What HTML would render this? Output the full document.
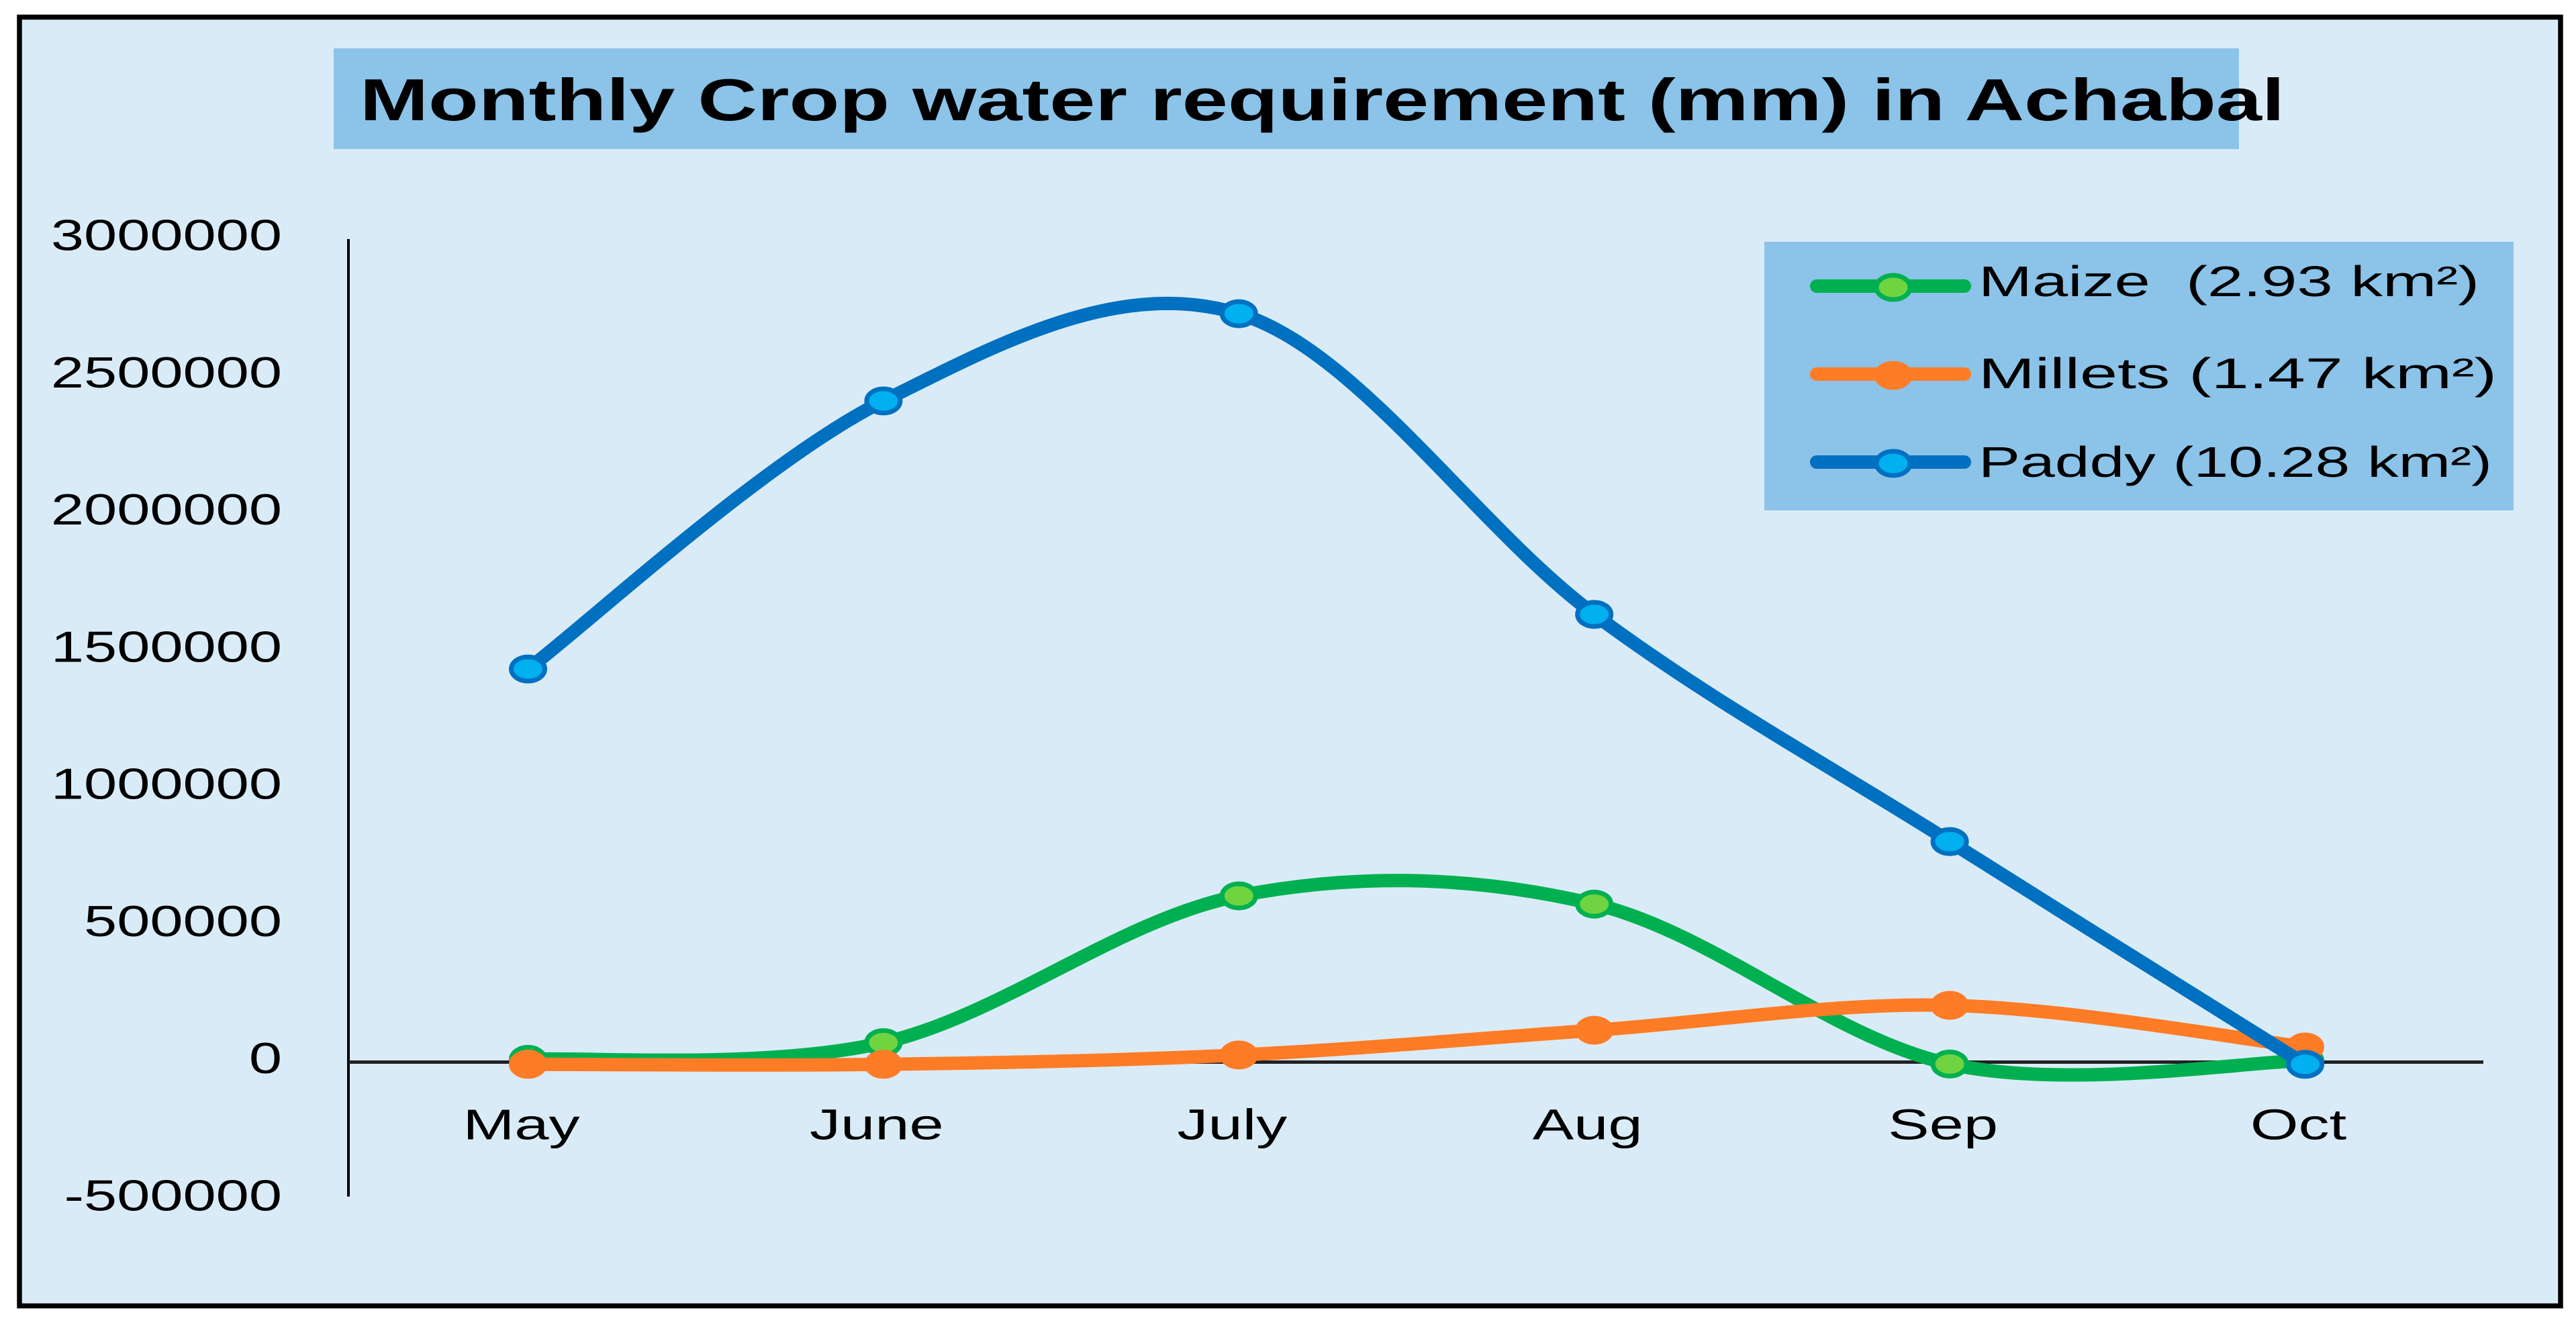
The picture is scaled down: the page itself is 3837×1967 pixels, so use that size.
<!DOCTYPE html>
<html lang="en">
<head>
<meta charset="utf-8">
<title>Monthly Crop water requirement (mm) in Achabal</title>
<style>
html,body{margin:0;padding:0;background:#fff;}
svg{display:block;}
text{font-family:"Liberation Sans",sans-serif;fill:#000;}
</style>
</head>
<body>
<svg id="chart" xmlns="http://www.w3.org/2000/svg" width="3837" height="1967" viewBox="0 0 3837 1967">
  <rect x="29" y="25.5" width="3785" height="1919" fill="#DAEBF8" stroke="#000" stroke-width="7.5"/>
  <rect x="497" y="72" width="2838" height="150" fill="#8CC3E8"/>
  <text x="536" y="179" font-size="88" font-weight="bold" textLength="2867" lengthAdjust="spacingAndGlyphs">Monthly Crop water requirement (mm) in Achabal</text>
  <g id="axes"></g>
  <g id="series"></g>
  <g>
    <rect x="2628" y="360" width="1116" height="400" fill="#8CC3E8"/>
    <g>
      <line x1="2706" y1="426" x2="2926" y2="426" stroke="#00B050" stroke-width="20" stroke-linecap="round"/>
      <ellipse cx="2820" cy="428" rx="25" ry="18" fill="#70D440" stroke="#00B050" stroke-width="7"/>
      <text x="2947" y="441" font-size="64" textLength="746" lengthAdjust="spacingAndGlyphs" xml:space="preserve">Maize  (2.93 km²)</text>
    </g>
    <g>
      <line x1="2706" y1="557" x2="2926" y2="557" stroke="#FF7C26" stroke-width="20" stroke-linecap="round"/>
      <ellipse cx="2820" cy="559" rx="25" ry="18" fill="#FF7C26" stroke="#FF7C26" stroke-width="7"/>
      <text x="2947" y="578" font-size="64" textLength="772" lengthAdjust="spacingAndGlyphs">Millets (1.47 km²)</text>
    </g>
    <g>
      <line x1="2706" y1="688" x2="2926" y2="688" stroke="#0070C0" stroke-width="20" stroke-linecap="round"/>
      <ellipse cx="2820" cy="690" rx="25" ry="18" fill="#00B0F0" stroke="#0070C0" stroke-width="7"/>
      <text x="2947" y="710" font-size="64" textLength="765" lengthAdjust="spacingAndGlyphs">Paddy (10.28 km²)</text>
    </g>
  </g>
</svg>
<script>
const categories = ['May', 'June', 'July', 'Aug', 'Sep', 'Oct'];
const tickValues = [3000000, 2500000, 2000000, 1500000, 1000000, 500000, 0, -500000];
const maizeValues = [10000, 71000, 606000, 576000, -7000, 5000];
const milletsValues = [-8000, -8000, 26000, 116000, 207000, 55000];
const paddyValues = [1433000, 2410000, 2728000, 1632000, 804000, -8000];

const NS = 'http://www.w3.org/2000/svg';

function x(i) { return 786.5 + i * 529.4; }
function y(v) { return 1581.5 - v * 408.5 / 1000000; }

function make(tag, attrs, parent) {
  const el = document.createElementNS(NS, tag);
  for (const k in attrs) el.setAttribute(k, attrs[k]);
  parent.appendChild(el);
  return el;
}

function smoothPath(values) {
  const pts = values.map((v, i) => [x(i), y(v)]);
  let d = 'M' + pts[0][0] + ' ' + pts[0][1];
  for (let i = 0; i < pts.length - 1; i++) {
    const p0 = pts[Math.max(0, i - 1)];
    const p1 = pts[i];
    const p2 = pts[i + 1];
    const p3 = pts[Math.min(pts.length - 1, i + 2)];
    const c1x = p1[0] + (p2[0] - p0[0]) / 6;
    const c1y = p1[1] + (p2[1] - p0[1]) / 6;
    const c2x = p2[0] - (p3[0] - p1[0]) / 6;
    const c2y = p2[1] - (p3[1] - p1[1]) / 6;
    d += ' C' + c1x + ' ' + c1y + ' ' + c2x + ' ' + c2y + ' ' + p2[0] + ' ' + p2[1];
  }
  return d;
}

const axes = document.getElementById('axes');

const yAxis = make('line', { x1: 519, y1: y(3000000), x2: 519, y2: y(-500000) + -4, stroke: '#000', 'stroke-width': 4 }, axes);



const xAxis = make('line', { x1: 519, y1: y(0), x2: 3699, y2: y(0), stroke: '#222', 'stroke-width': 5 }, axes);



tickValues.forEach((v) => {
  const t = make('text', { transform: 'translate(420,' + (y(v) + 16.5) + ') scale(1.36,1)', 'font-size': 65, 'text-anchor': 'end' }, axes);
  
  
  t.textContent = String(v);
});

categories.forEach((c, i) => {
  const t = make('text', { transform: 'translate(' + (x(i) - 10) + ',1696.5) scale(1.44,1)', 'font-size': 64, 'text-anchor': 'middle' }, axes);
  
  
  t.textContent = c;
});

const seriesGroup = document.getElementById('series');

function drawSeries(name, values, lineColor, fillColor) {
  const g = make('g', {}, seriesGroup);
  
  
  const line = make('path', { d: smoothPath(values), fill: 'none', stroke: lineColor, 'stroke-width': 20, 'stroke-linecap': 'round', 'stroke-linejoin': 'round' }, g);
  
  
  values.forEach((v, i) => {
    const m = make('ellipse', { cx: x(i), cy: y(v), rx: 25, ry: 18, fill: fillColor, stroke: lineColor, 'stroke-width': 7 }, g);
    
    
  });
}

drawSeries('maize', maizeValues, '#00B050', '#70D440');
drawSeries('millets', milletsValues, '#FF7C26', '#FF7C26');
drawSeries('paddy', paddyValues, '#0070C0', '#00B0F0');
</script>
</body>
</html>
